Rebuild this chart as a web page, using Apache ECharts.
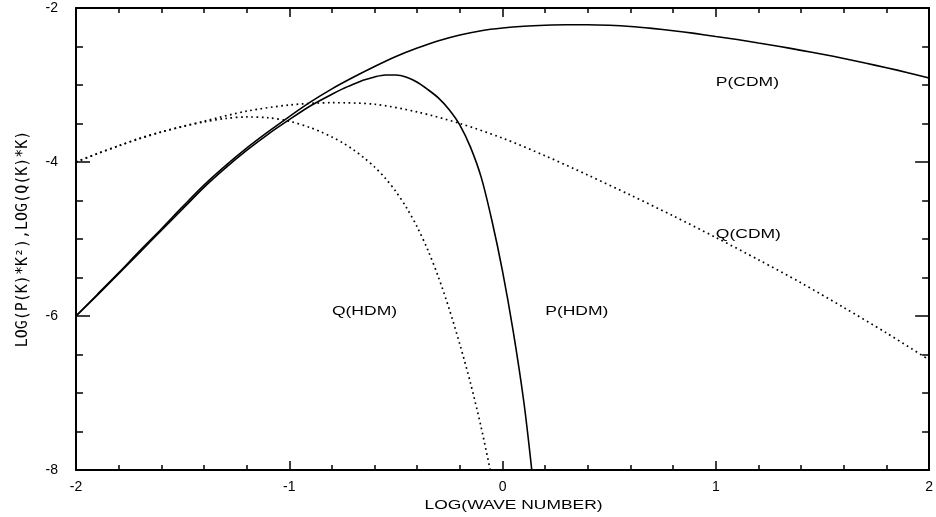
<!DOCTYPE html>
<html><head><meta charset="utf-8">
<script src="https://cdn.jsdelivr.net/npm/echarts@6/dist/echarts.min.js"></script>
<style>html,body{margin:0;padding:0;background:#fff}#c{width:936px;height:517px}</style>
</head><body><div id="c"></div>
<script>
// ---- data ----
const pcdmX = [-2.0,-1.9,-1.8,-1.7,-1.6,-1.5,-1.4,-1.3,-1.2,-1.1,-1.0,-0.9,-0.8,-0.7,-0.6,-0.5,-0.4,-0.3,-0.2,-0.1,0.0,0.1,0.2,0.3,0.4,0.5,0.6,0.7,0.8,0.9,1.0,1.1,1.2,1.3,1.4,1.5,1.6,1.7,1.8,1.9,2.0];
const pcdmY = [-6.00,-5.72,-5.44,-5.15,-4.87,-4.58,-4.30,-4.05,-3.82,-3.61,-3.41,-3.22,-3.05,-2.90,-2.76,-2.63,-2.52,-2.425,-2.35,-2.295,-2.26,-2.237,-2.224,-2.218,-2.218,-2.225,-2.24,-2.265,-2.295,-2.33,-2.37,-2.41,-2.455,-2.50,-2.55,-2.60,-2.655,-2.715,-2.775,-2.84,-2.91];

const phdmX = [-2.0,-1.9,-1.8,-1.7,-1.6,-1.5,-1.4,-1.3,-1.2,-1.1,-1.0,-0.9,-0.8,-0.75,-0.7,-0.65,-0.6,-0.55,-0.5,-0.45,-0.4,-0.35,-0.3,-0.25,-0.2,-0.15,-0.1,-0.05,0.0,0.05,0.1,0.137];
const phdmY = [-6.00,-5.73,-5.45,-5.17,-4.89,-4.61,-4.33,-4.08,-3.85,-3.64,-3.45,-3.27,-3.12,-3.05,-2.99,-2.935,-2.895,-2.87,-2.87,-2.90,-2.965,-3.06,-3.17,-3.32,-3.52,-3.81,-4.20,-4.76,-5.42,-6.20,-7.12,-8.0];

const qcdmX = [-2.0,-1.8,-1.6,-1.4,-1.2,-1.0,-0.8,-0.6,-0.4,-0.2,0.0,0.2,0.4,0.6,0.8,1.0,1.2,1.4,1.6,1.8,2.0];
const qcdmY = [-4.0,-3.79,-3.61,-3.47,-3.34,-3.26,-3.23,-3.25,-3.35,-3.50,-3.69,-3.92,-4.17,-4.43,-4.70,-4.98,-5.27,-5.57,-5.89,-6.22,-6.57];

const qhdmX = [-2.0,-1.9,-1.8,-1.7,-1.6,-1.5,-1.4,-1.3,-1.2,-1.1,-1.0,-0.9,-0.85,-0.8,-0.75,-0.7,-0.65,-0.6,-0.55,-0.5,-0.45,-0.4,-0.35,-0.3,-0.25,-0.2,-0.15,-0.1,-0.058];
const qhdmY = [-4.0,-3.89,-3.79,-3.69,-3.61,-3.54,-3.48,-3.435,-3.415,-3.425,-3.47,-3.555,-3.61,-3.675,-3.75,-3.84,-3.945,-4.065,-4.21,-4.385,-4.595,-4.845,-5.145,-5.50,-5.91,-6.37,-6.875,-7.45,-8.0];

const annoText = ['P(CDM)','Q(CDM)','Q(HDM)','P(HDM)'];
const annoX = [1.0, 1.0, -0.8, 0.2];
const annoY = [-2.97, -4.94, -5.94, -5.94];

const xTitle = 'LOG(WAVE NUMBER)';
const yTitle = 'LOG(P(K)*K\u00B2),LOG(Q(K)*K)';

// ---- chart ----
const pairs = (xs, ys) => xs.map((x, i) => [x, ys[i]]);
const chart = echarts.init(document.getElementById('c'));
const tickFont = {fontFamily:'Liberation Sans', fontSize:14, color:'#000'};
const axisLine = {show:true, onZero:false, lineStyle:{color:'#000', width:2}};
const xBase = {type:'value', min:-2, max:2, interval:1, splitLine:{show:false},
  axisLine, axisTick:{show:true, inside:true, length:9, lineStyle:{color:'#000', width:1.5}},
  minorTick:{show:true, splitNumber:5, length:5, lineStyle:{color:'#000', width:1.5}}};
const yBase = {type:'value', min:-8, max:-2, interval:2, splitLine:{show:false},
  axisLine, axisTick:{show:true, inside:true, length:14, lineStyle:{color:'#000', width:1.5}},
  minorTick:{show:true, splitNumber:4, length:7, lineStyle:{color:'#000', width:1.5}}};

const solid = {color:'#000', width:1.6, type:'solid'};
const dotted = {color:'#000', width:1.7, type:[1.7, 3.5]};
const mk = (name, xs, ys, ls) => ({name, type:'line', data:pairs(xs, ys), showSymbol:false,
  symbol:'none', smooth:0.3, clip:true, lineStyle:ls, silent:true, animation:false});

chart.setOption({
  animation:false,
  backgroundColor:'#fff',
  grid:{left:76, right:1, top:8, bottom:47, containLabel:false},
  xAxis:[
    Object.assign({}, xBase, {position:'bottom', axisLabel:Object.assign({show:true, margin:10}, tickFont)}),
    Object.assign({}, xBase, {position:'top', axisLabel:{show:false}})
  ],
  yAxis:[
    Object.assign({}, yBase, {position:'left', axisLabel:Object.assign({show:true, margin:18}, tickFont),
      name:yTitle, nameLocation:'middle', nameRotate:90, nameGap:45,
      nameTextStyle:{fontFamily:'DejaVu Sans Mono', fontSize:15, color:'#000'}}),
    Object.assign({}, yBase, {position:'right', axisLabel:{show:false}})
  ],
  series:[
    mk('P(CDM)', pcdmX, pcdmY, solid),
    mk('P(HDM)', phdmX, phdmY, solid),
    mk('Q(CDM)', qcdmX, qcdmY, dotted),
    mk('Q(HDM)', qhdmX, qhdmY, dotted)
  ]
});

const finder = {xAxisIndex:0, yAxisIndex:0};
const graphics = annoText.map((t, i) => {
  const p = chart.convertToPixel(finder, [annoX[i], annoY[i]]);
  return {type:'text', x:p[0], y:p[1], scaleX:1.4, silent:true,
    style:{text:t, font:'12.5px "Liberation Sans", Arial, sans-serif', fill:'#000',
      align:'left', verticalAlign:'middle', textAlign:'left', textVerticalAlign:'middle'}};
});
const c0 = chart.convertToPixel(finder, [0, -8]);
graphics.push({type:'text', x:c0[0] + 11, y:c0[1] + 36, scaleX:1.45, silent:true,
  style:{text:xTitle, font:'12px "Liberation Sans", Arial, sans-serif', fill:'#000',
    align:'center', verticalAlign:'middle', textAlign:'center', textVerticalAlign:'middle'}});
chart.setOption({graphic:graphics});
</script></body></html>
